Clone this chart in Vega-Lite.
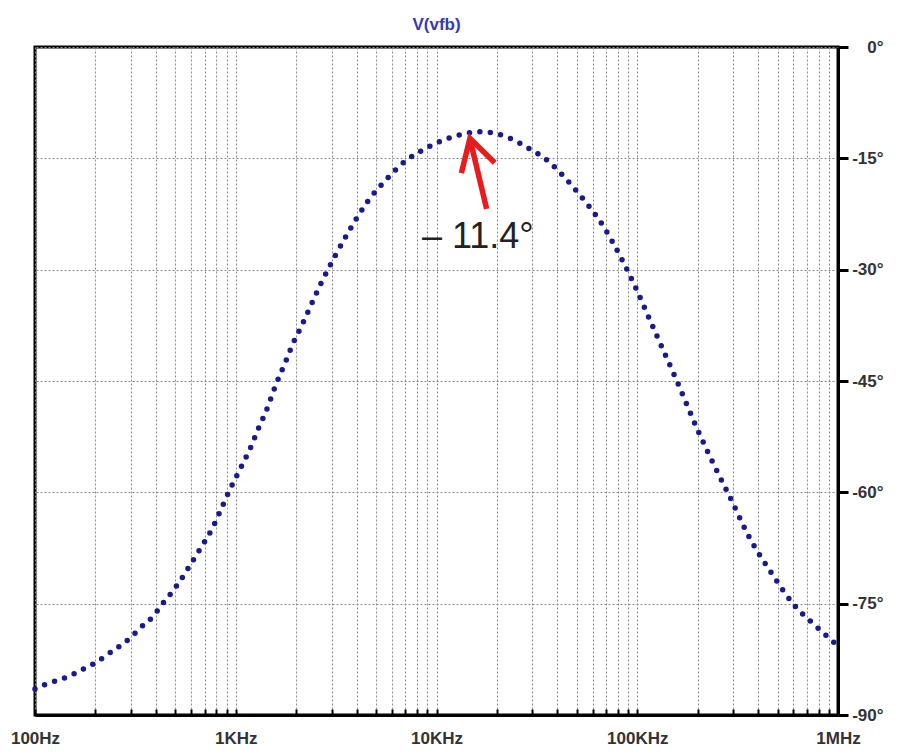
{
  "$schema": "https://vega.github.io/schema/vega-lite/v6.json",
  "description": "Phase response of V(vfb), AC sweep 100Hz to 1MHz",
  "width": 803,
  "height": 668,
  "autosize": "none",
  "padding": {"left": 35, "top": 47, "right": 62, "bottom": 39},
  "background": "white",
  "title": {
    "text": "V(vfb)",
    "color": "#3838b0",
    "font": "Liberation Sans",
    "fontSize": 17,
    "fontWeight": "bold",
    "anchor": "middle",
    "offset": 4
  },
  "datasets": {
    "phase": [
      {"f": 100, "p": -86.5},
      {"f": 112, "p": -85.9},
      {"f": 141, "p": -85.0},
      {"f": 158, "p": -84.4},
      {"f": 177, "p": -83.7},
      {"f": 199, "p": -83.0},
      {"f": 223, "p": -82.1},
      {"f": 248, "p": -81.2},
      {"f": 278, "p": -80.3},
      {"f": 309, "p": -79.2},
      {"f": 346, "p": -77.9},
      {"f": 385, "p": -76.8},
      {"f": 432, "p": -75.0},
      {"f": 470, "p": -73.8},
      {"f": 538, "p": -71.6},
      {"f": 580, "p": -70.2},
      {"f": 676, "p": -67.3},
      {"f": 773, "p": -64.6},
      {"f": 841, "p": -62.4},
      {"f": 936, "p": -59.6},
      {"f": 1050, "p": -56.9},
      {"f": 1180, "p": -54.1},
      {"f": 1320, "p": -50.9},
      {"f": 1400, "p": -49.4},
      {"f": 1530, "p": -46.6},
      {"f": 1600, "p": -45.2},
      {"f": 1760, "p": -42.6},
      {"f": 1930, "p": -39.9},
      {"f": 2090, "p": -38.0},
      {"f": 2210, "p": -36.6},
      {"f": 2480, "p": -33.6},
      {"f": 2630, "p": -32.1},
      {"f": 2840, "p": -30.3},
      {"f": 3160, "p": -27.9},
      {"f": 3630, "p": -25.0},
      {"f": 4570, "p": -20.7},
      {"f": 5430, "p": -18.3},
      {"f": 6900, "p": -15.5},
      {"f": 8930, "p": -13.6},
      {"f": 11400, "p": -12.3},
      {"f": 14400, "p": -11.6},
      {"f": 16000, "p": -11.4},
      {"f": 20000, "p": -11.7},
      {"f": 22800, "p": -12.2},
      {"f": 28600, "p": -13.6},
      {"f": 35300, "p": -15.2},
      {"f": 43600, "p": -17.6},
      {"f": 53800, "p": -20.5},
      {"f": 63900, "p": -23.1},
      {"f": 90100, "p": -30.3},
      {"f": 124700, "p": -38.8},
      {"f": 157000, "p": -44.9},
      {"f": 197000, "p": -51.2},
      {"f": 239000, "p": -56.1},
      {"f": 289000, "p": -60.6},
      {"f": 364000, "p": -66.2},
      {"f": 467000, "p": -70.9},
      {"f": 597000, "p": -75.0},
      {"f": 781000, "p": -78.1},
      {"f": 1000000, "p": -80.7}
    ],
    "arrow": [
      {"g": "head", "o": 1, "f": 13300, "p": -17.0},
      {"g": "head", "o": 2, "f": 14670, "p": -12.3},
      {"g": "head", "o": 3, "f": 19500, "p": -15.6},
      {"g": "shaft", "o": 1, "f": 17770, "p": -21.8},
      {"g": "shaft", "o": 2, "f": 14800, "p": -12.8}
    ],
    "label": [
      {"f": 8460, "p": -27.1, "t": "– 11.4°"}
    ]
  },
  "layer": [
    {
      "data": {"name": "phase"},
      "mark": {
        "type": "line",
        "color": "#1a1a8a",
        "strokeWidth": 5.5,
        "strokeDash": [0, 10.5],
        "strokeCap": "round",
        "interpolate": "monotone"
      },
      "encoding": {
        "x": {
          "field": "f",
          "type": "quantitative",
          "scale": {"type": "log", "domain": [100, 1000000], "nice": false},
          "axis": {
            "orient": "bottom",
            "title": null,
            "values": [100, 200, 300, 400, 500, 600, 700, 800, 900,
                       1000, 2000, 3000, 4000, 5000, 6000, 7000, 8000, 9000,
                       10000, 20000, 30000, 40000, 50000, 60000, 70000, 80000, 90000,
                       100000, 200000, 300000, 400000, 500000, 600000, 700000, 800000, 900000,
                       1000000],
            "labelExpr": "datum.value == 100 ? '100Hz' : datum.value == 1000 ? '1KHz' : datum.value == 10000 ? '10KHz' : datum.value == 100000 ? '100KHz' : datum.value == 1000000 ? '1MHz' : ''",
            "grid": true,
            "gridColor": "#8a8a8a",
            "gridDash": [2, 2],
            "gridWidth": 1,
            "tickSize": -6,
            "tickColor": "black",
            "tickWidth": 2,
            "domainColor": "black",
            "domainWidth": 3,
            "labelFont": "Liberation Sans",
            "labelFontSize": 17,
            "labelFontWeight": "bold",
            "labelColor": "#333333",
            "labelPadding": 21,
            "labelOverlap": false,
            "labelFlush": false,
            "labelBound": false
          }
        },
        "y": {
          "field": "p",
          "type": "quantitative",
          "scale": {"domain": [-90, 0], "nice": false, "zero": false},
          "axis": {
            "orient": "right",
            "title": null,
            "values": [0, -15, -30, -45, -60, -75, -90],
            "labelExpr": "datum.value + '°'",
            "grid": true,
            "gridColor": "#8a8a8a",
            "gridDash": [2, 2],
            "gridWidth": 1,
            "tickSize": 10,
            "tickColor": "black",
            "tickWidth": 3,
            "domainColor": "black",
            "domainWidth": 3,
            "labelFont": "Liberation Sans",
            "labelFontSize": 17,
            "labelFontWeight": "bold",
            "labelColor": "#333333",
            "labelAlign": "right",
            "labelBaseline": "middle",
            "labelPadding": 35,
            "labelOverlap": false,
            "labelFlush": false
          }
        }
      }
    },
    {
      "data": {"name": "arrow"},
      "mark": {
        "type": "line",
        "color": "#e81c1c",
        "strokeWidth": 5.5,
        "strokeJoin": "miter",
        "strokeCap": "butt"
      },
      "encoding": {
        "x": {"field": "f", "type": "quantitative"},
        "y": {"field": "p", "type": "quantitative"},
        "detail": {"field": "g"},
        "order": {"field": "o"}
      }
    },
    {
      "data": {"name": "label"},
      "mark": {
        "type": "text",
        "align": "left",
        "baseline": "alphabetic",
        "font": "Liberation Sans",
        "fontSize": 36,
        "color": "#222222"
      },
      "encoding": {
        "x": {"field": "f", "type": "quantitative"},
        "y": {"field": "p", "type": "quantitative"},
        "text": {"field": "t"}
      }
    }
  ],
  "config": {
    "view": {"stroke": "black", "strokeWidth": 3}
  }
}
